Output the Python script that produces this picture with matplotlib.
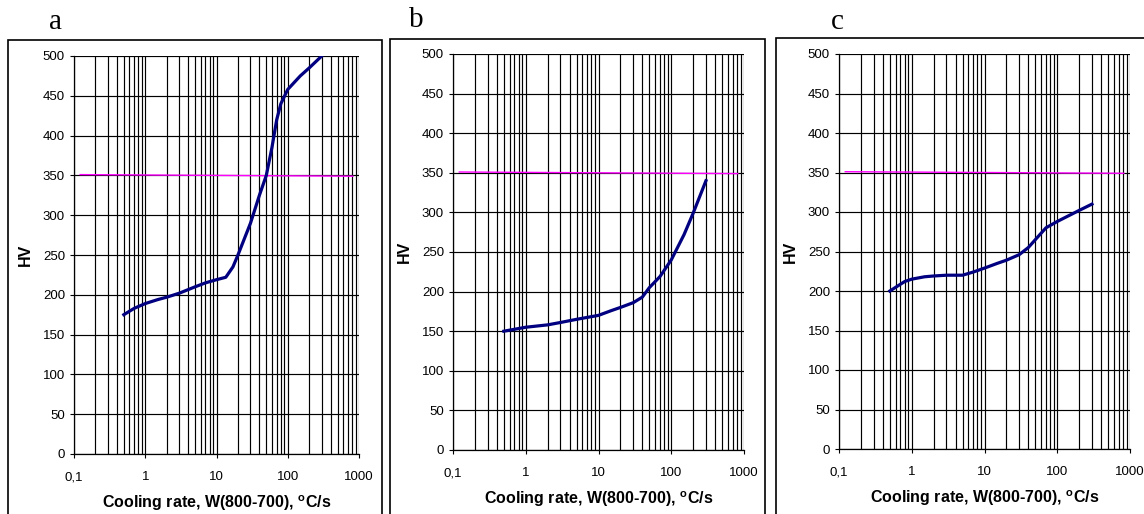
import matplotlib
matplotlib.use("Agg")
import matplotlib.pyplot as plt
from matplotlib.patches import Rectangle
from matplotlib.ticker import LogLocator, FixedLocator, FixedFormatter
import numpy as np

plt.rcParams['font.family'] = ['Liberation Sans', 'DejaVu Sans']
plt.rcParams['mathtext.fontset'] = 'custom'
plt.rcParams['mathtext.bf'] = 'Liberation Sans:bold'
plt.rcParams['mathtext.rm'] = 'Liberation Sans'

panel_labels = ["a", "b", "c"]

rate_a = [0.5, 0.7, 1, 1.5, 2, 3, 5, 7, 10, 13.5, 17, 20, 30, 40, 50, 60, 70, 80, 100, 150, 200, 300]
hv_a = [175, 183, 189, 194, 197, 202, 210, 215, 219, 222, 235, 250, 290, 325, 350, 385, 420, 440, 458, 475, 485, 500]

rate_b = [0.5, 1, 2, 3, 5, 10, 15, 20, 30, 40, 50, 70, 100, 150, 200, 300]
hv_b = [150, 155, 158, 161, 165, 170, 176, 180, 186, 193, 205, 219, 240, 272, 299, 340]

rate_c = [0.5, 0.8, 1, 1.5, 2, 3, 5, 7, 10, 15, 20, 30, 40, 50, 70, 100, 200, 300]
hv_c = [200, 212, 215, 218, 219, 220, 220, 224, 229, 235, 239, 246, 255, 265, 280, 288, 302, 310]

limit_x = [0.122, 820]
limit_hv = [351, 349]

x_ticks = [0.1, 1, 10, 100, 1000]
x_ticklabels = ["0,1", "1", "10", "100", "1000"]
y_ticks = [0, 50, 100, 150, 200, 250, 300, 350, 400, 450, 500]

W, H = 1144, 514
fig = plt.figure(figsize=(W / 100, H / 100), dpi=100)

axes_px = [(74, 56, 359, 454), (453, 54, 744, 450), (839, 54, 1130, 449)]
box_px = [(8, 40, 382, 520), (390, 39, 765, 520), (776, 38, 1150, 520)]
label_px = [(55, 22), (416, 20), (837, 22)]

series = [(rate_a, hv_a), (rate_b, hv_b), (rate_c, hv_c)]

for i in range(3):
    bl, bt, br, bb = box_px[i]
    fig.patches.append(Rectangle((bl / W, 1 - bb / H), (br - bl) / W, (bb - bt) / H,
                                 transform=fig.transFigure, fill=False,
                                 edgecolor='black', linewidth=1.2, zorder=0))
    l, t, r, b = axes_px[i]
    ax = fig.add_axes([l / W, 1 - b / H, (r - l) / W, (b - t) / H])
    ax.set_xscale('log')
    ax.set_xlim(0.1, 1000)
    ax.set_ylim(0, 500)
    ax.xaxis.set_major_locator(FixedLocator(x_ticks))
    ax.xaxis.set_major_formatter(FixedFormatter(x_ticklabels))
    ax.xaxis.set_minor_locator(LogLocator(base=10, subs=np.arange(2, 10), numticks=20))
    ax.yaxis.set_major_locator(FixedLocator(y_ticks))
    ax.grid(True, which='major', color='black', linewidth=0.85)
    ax.grid(True, which='minor', axis='x', color='black', linewidth=0.85)
    for s in ['top', 'right']:
        ax.spines[s].set_visible(False)
    ax.spines['left'].set_linewidth(0.9)
    ax.spines['bottom'].set_linewidth(0.9)
    ax.tick_params(axis='both', which='major', labelsize=9.5, length=3, width=0.8, color='black')
    ax.tick_params(axis='x', which='minor', length=0)
    ax.tick_params(axis='x', which='major', pad=9.5)
    ax.plot(limit_x, limit_hv, color='#ff00ff', linewidth=1.0, zorder=3)
    xs, ys = series[i]
    ax.plot(xs, ys, color='#000080', linewidth=2.3, zorder=4)
    ax.set_xlabel(r"Cooling rate, W(800-700), $^{\mathbf{o}}$C/s", fontsize=11.5,
                  fontweight='bold', labelpad=7.5)
    ax.set_ylabel("HV", fontsize=11.5, fontweight='bold', labelpad=7)
    lx, ly = label_px[i]
    fig.text(lx / W, 1 - ly / H, panel_labels[i], fontsize=21, family='Liberation Serif',
             ha='center', va='center')

fig.savefig("out.png", dpi=100)
